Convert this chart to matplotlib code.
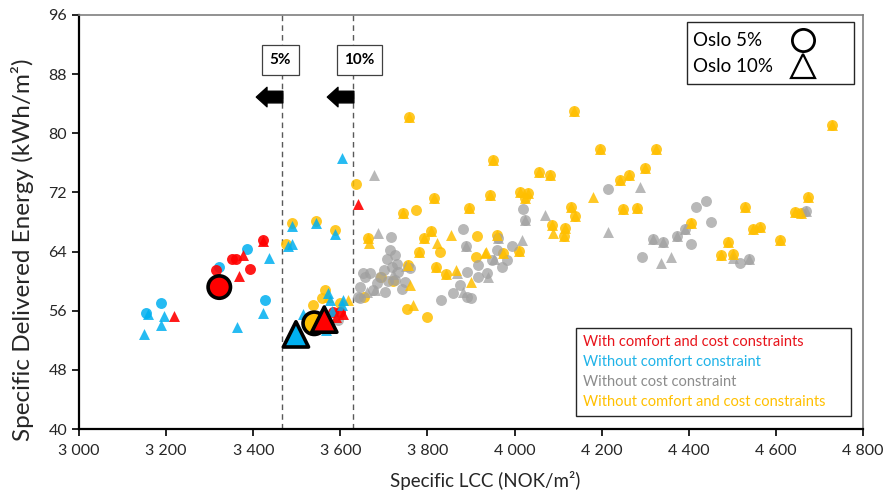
import matplotlib
matplotlib.use("Agg")
import matplotlib.pyplot as plt
from matplotlib.patches import Rectangle

plt.rcParams['font.family'] = ['Lato', 'DejaVu Sans']

# ---- data (specific LCC NOK/m2, specific delivered energy kWh/m2) ----
# "both" = design found for Oslo 5% and Oslo 10% (circle + triangle on top of each other)
red_c5_x = [3422, 3352, 3360, 3315, 3393, 3583, 3600]
red_c5_y = [65.6, 63.0, 63.0, 61.5, 61.7, 55.8, 55.8]
red_t10_x = [3422, 3367, 3376, 3219, 3640, 3605, 3590]
red_t10_y = [65.4, 60.7, 63.5, 55.3, 70.4, 55.6, 55.2]

blue_c5_x = [3154, 3188, 3322, 3385, 3427]
blue_c5_y = [55.7, 57.0, 61.95, 64.4, 57.5]
blue_t10_x = [3158, 3194, 3188, 3149, 3437, 3422, 3362, 3603, 3490, 3544, 3588,
              3479, 3490, 3515, 3571, 3576, 3607, 3568, 3603, 3545, 3555, 3580]
blue_t10_y = [55.6, 55.3, 54.1, 52.8, 63.1, 55.7, 53.75, 76.6, 67.5, 67.8, 66.4,
              64.75, 65.0, 55.6, 58.4, 57.4, 57.4, 53.4, 56.8, 53.9, 55.5, 56.0]

gray_both_x = [4318, 4341, 4372, 4391, 4539, 4669, 4024, 3963, 3888]
gray_both_y = [65.7, 65.3, 66.1, 67.0, 62.95, 69.5, 68.3, 65.9, 64.75]
gray_c5_x = [3706, 3725, 3718, 3733, 3748, 3657, 3668, 3645, 3676, 3702, 3725, 3741,
             3714, 3645, 3832, 3859, 3890, 3890, 3917, 3917, 3875, 3716, 3595, 3641,
             3653, 3690, 3700, 3685, 3993, 3959, 3982, 3970, 3947, 3936, 4020, 4214,
             4292, 4416, 4439, 4451, 4405, 4518, 3882, 3901, 3730, 3710, 3760]
gray_c5_y = [62.95, 63.5, 61.95, 61.3, 59.9, 60.6, 61.05, 59.25, 58.8, 58.55, 60.15, 59.0,
             64.2, 57.7, 57.4, 58.35, 57.9, 61.3, 62.2, 60.6, 59.5, 66.0, 54.75, 57.9,
             61.05, 60.5, 61.5, 59.8, 64.75, 64.2, 62.85, 61.95, 62.85, 61.15, 69.7, 72.45,
             63.2, 70.0, 70.8, 67.95, 65.0, 62.5, 67.0, 57.7, 62.3, 60.0, 61.8]
gray_t10_x = [3678, 3687, 3680, 3867, 3882, 4070, 4016, 3953, 4289, 4215, 4337, 4360,
              4501, 3940, 3660, 3720, 3750]
gray_t10_y = [74.35, 66.45, 58.8, 61.05, 58.55, 68.95, 65.6, 62.95, 72.8, 66.7, 62.5, 63.2,
              63.1, 60.5, 58.5, 61.0, 62.0]

yel_both_x = [3758, 4137, 4729, 4196, 4324, 3951, 4299, 4055, 4082, 4263, 4243, 3814,
              3943, 4012, 4031, 4024, 3896, 3743, 4129, 4139, 4248, 4280, 4529, 4674,
              4644, 4657, 3959, 4085, 4116, 4114, 4406, 4491, 4548, 4563, 4609, 4475,
              4501, 3664, 3807, 3792, 3781, 3820, 3843, 3756, 3973, 4011]
yel_both_y = [82.25, 83.0, 81.1, 77.9, 77.9, 76.4, 75.3, 74.8, 74.35, 74.35, 73.7, 71.3,
              71.6, 72.0, 71.9, 71.2, 69.85, 69.25, 70.0, 68.8, 69.8, 69.85, 70.0, 71.4,
              69.4, 69.25, 66.2, 67.6, 67.15, 66.1, 67.8, 65.35, 67.0, 67.35, 65.6, 63.5,
              63.65, 65.8, 66.8, 65.8, 64.0, 61.95, 61.0, 62.2, 63.85, 64.1]
yel_c5_x = [3637, 3774, 3914, 3829, 3911, 3693, 3654, 3752, 3800, 3720, 3490, 3544,
            3588, 3475, 3565, 3538, 3557, 3600]
yel_c5_y = [73.1, 69.6, 66.1, 64.0, 63.3, 60.5, 57.9, 56.3, 55.2, 60.0, 67.9, 68.2,
            66.9, 65.0, 58.8, 56.8, 57.7, 57.0]
yel_t10_x = [4181, 3854, 4089, 3821, 3934, 3865, 3899, 3760, 3766, 3932, 3617, 3571, 3665]
yel_t10_y = [71.4, 66.3, 66.5, 65.1, 63.9, 61.5, 59.9, 59.5, 56.8, 63.75, 57.45, 57.9, 65.2]

# best designs (highlighted with a black edge)
best_c5 = {"x": [3322, 3540], "y": [59.2, 54.3], "c": ["#FF0000", "#FFC000"]}
best_t10 = {"x": [3498, 3563], "y": [52.8, 54.8], "c": ["#00B0F0", "#FF0000"]}

lim_5 = 3465
lim_10 = 3628
x_ticks = list(range(3000, 4801, 200))
y_ticks = list(range(40, 97, 8))

RED, BLUE, GRAY, YEL = "#FF0000", "#00B0F0", "#A0A0A0", "#FFBF00"
ALPHA = {RED: 0.9, BLUE: 0.85, GRAY: 0.75, YEL: 0.85}

fig = plt.figure(figsize=(8.86, 4.95), dpi=100)
ax = fig.add_axes([0.0892, 0.1333, 0.8849, 0.8364])

# circles (5%) first, triangles (10%) on top
circle_sets = [(yel_both_x + yel_c5_x, yel_both_y + yel_c5_y, YEL),
               (gray_both_x + gray_c5_x, gray_both_y + gray_c5_y, GRAY),
               (blue_c5_x, blue_c5_y, BLUE),
               (red_c5_x, red_c5_y, RED)]
tri_sets = [(gray_both_x + gray_t10_x, gray_both_y + gray_t10_y, GRAY),
            (yel_both_x + yel_t10_x, yel_both_y + yel_t10_y, YEL),
            (blue_t10_x, blue_t10_y, BLUE),
            (red_t10_x, red_t10_y, RED)]
for xs, ys, col in circle_sets:
    ax.scatter(xs, ys, s=62, marker='o', color=col, alpha=ALPHA[col], linewidths=0, zorder=3)
for xs, ys, col in tri_sets:
    ax.scatter(xs, ys, s=62, marker='^', color=col, alpha=ALPHA[col], linewidths=0, zorder=4)

ax.scatter(best_c5["x"], best_c5["y"], s=260, marker='o', c=best_c5["c"],
           edgecolors='black', linewidths=2.6, zorder=5)
ax.scatter(best_t10["x"], best_t10["y"], s=330, marker='^', c=best_t10["c"],
           edgecolors='black', linewidths=2.6, zorder=6)

# limits of 5 % and 10 % cost increase
for xv, lab in [(lim_5, "5%"), (lim_10, "10%")]:
    ax.axvline(xv, color='#595959', lw=1.0, ls=(0, (4, 3)), zorder=2)
    ax.text(xv - 3 if lab == "5%" else xv + 16, 89.9, lab, ha='center', va='center',
            fontsize=11, fontweight='bold', zorder=7,
            bbox=dict(boxstyle='square,pad=0.5', fc='white', ec='#404040', lw=0.9))
    ax.annotate('', xy=(xv - 58, 84.9), xytext=(xv + 3, 84.9), zorder=7,
                arrowprops=dict(arrowstyle='simple,head_length=0.55,head_width=1.0,tail_width=0.6',
                                color='black', mutation_scale=14, shrinkA=0, shrinkB=0))

ax.set_xlim(3000, 4800)
ax.set_ylim(40, 96)
ax.set_xticks(x_ticks)
ax.set_xticklabels([f"{v:,}".replace(",", " ") for v in x_ticks])
ax.set_yticks(y_ticks)
ax.tick_params(axis='both', direction='out', length=5, width=1.2, labelsize=11.5, colors='black',
               labelcolor='#262626')
ax.tick_params(axis='x', pad=6)
for side in ['left', 'bottom']:
    ax.spines[side].set_linewidth(1.6)
    ax.spines[side].set_color('black')
for side in ['top', 'right']:
    ax.spines[side].set_linewidth(1.2)
    ax.spines[side].set_color('#7F7F7F')

ax.set_ylabel("Specific Delivered Energy (kWh/m²)", fontsize=17.5, color='#262626')
ax.yaxis.set_label_coords(-0.058, 0.432)
ax.set_xlabel("Specific LCC (NOK/m²)", fontsize=13.5, color='#262626')
ax.xaxis.set_label_coords(0.518, -0.102)

# marker legend (top right)
ax.add_patch(Rectangle((0.7755, 0.8333), 0.213, 0.1497, transform=ax.transAxes,
                       fc='white', ec='#262626', lw=1.0, zorder=8))
ax.text(0.783, 0.9396, "Oslo 5%", transform=ax.transAxes, fontsize=13.5, va='center', zorder=9)
ax.text(0.783, 0.8768, "Oslo 10%", transform=ax.transAxes, fontsize=13.5, va='center', zorder=9)
ax.plot([0.9235], [0.9396], marker='o', ms=16, mfc='white', mec='black', mew=2.0,
        transform=ax.transAxes, zorder=9, clip_on=False)
ax.plot([0.9235], [0.8768], marker='^', ms=17, mfc='white', mec='black', mew=1.6,
        transform=ax.transAxes, zorder=9, clip_on=False)

# colour legend (bottom right)
ax.add_patch(Rectangle((0.634, 0.0314), 0.3507, 0.2126, transform=ax.transAxes,
                       fc='white', ec='#262626', lw=1.0, zorder=8))
col_labels = [("With comfort and cost constraints", "#E8141B"),
              ("Without comfort constraint", "#1FB3E8"),
              ("Without cost constraint", "#8C8C8C"),
              ("Without comfort and cost constraints", "#FFC000")]
for i, (txt, col) in enumerate(col_labels):
    ax.text(0.643, 0.2101 - i * 0.0483, txt, transform=ax.transAxes, fontsize=10.5,
            color=col, va='center', zorder=9)

fig.savefig("out.png", dpi=100)
